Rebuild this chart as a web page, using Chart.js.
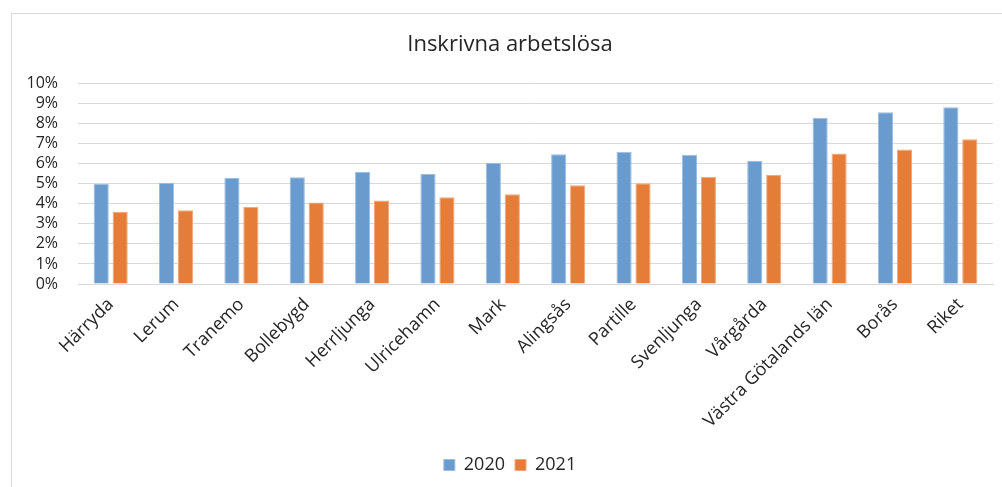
<!DOCTYPE html>
<html>
<head>
<meta charset="utf-8">
<script src="https://cdn.jsdelivr.net/npm/chart.js@4"></script>
<style>
  html, body { margin: 0; padding: 0; background: #fff; }
  #wrap { position: relative; width: 1002px; height: 487px; overflow: hidden; }
  #frame { position: absolute; left: 11px; top: 13px; width: 1100px; height: 600px;
           border-left: 1px solid #d9d9d9; border-top: 1px solid #d9d9d9; }
  canvas { position: absolute; left: 0; top: 0; }
</style>
</head>
<body>
<div id="wrap">
  <div id="frame"></div>
  <canvas id="chart" width="1002" height="487"></canvas>
</div>
<script>
// Data
const kommuner = ['Härryda', 'Lerum', 'Tranemo', 'Bollebygd', 'Herrljunga', 'Ulricehamn', 'Mark',
  'Alingsås', 'Partille', 'Svenljunga', 'Vårgårda', 'Västra Götalands län', 'Borås', 'Riket'];
const ar2020 = [5.0, 5.05, 5.28, 5.32, 5.59, 5.48, 6.04, 6.47, 6.59, 6.44, 6.14, 8.29, 8.56, 8.81];
const ar2021 = [3.6, 3.68, 3.85, 4.06, 4.16, 4.33, 4.48, 4.92, 5.02, 5.35, 5.43, 6.5, 6.71, 7.21];
const yTicks = [0, 1, 2, 3, 4, 5, 6, 7, 8, 9, 10];

const textColor = '#262626';
const gridColor = '#d9d9d9';
const fontFam = '"Open Sans", sans-serif';

const ctx = document.getElementById('chart').getContext('2d');
new Chart(ctx, {
    type: 'bar',
    data: {
        labels: kommuner,
        datasets: [
            { label: '2020', data: ar2020, backgroundColor: '#6a9bcf', borderColor: '#9dbde0', borderWidth: 1 },
            { label: '2021', data: ar2021, backgroundColor: '#e57c38', borderColor: '#f0a878', borderWidth: 1 }
        ]
    },
    options: {
        responsive: false,
        animation: false,
        layout: { padding: { left: 27, right: 9, top: 32, bottom: 3 } },
        datasets: { bar: { categoryPercentage: 0.58, barPercentage: 0.8 } },
        scales: {
            x: {
                grid: { display: false },
                border: { display: true, color: gridColor },
                ticks: {
                    color: textColor,
                    font: { family: fontFam, size: 18 },
                    minRotation: 45, maxRotation: 45,
                    autoSkip: false,
                    padding: 2
                },
                afterFit: (scale) => {
                    scale.height = 162;
                    scale.paddingLeft = 0;
                    scale.paddingRight = 0;
                }
            },
            y: {
                min: 0, max: 10,
                afterBuildTicks: (scale) => { scale.ticks = yTicks.map(v => ({ value: v })); },
                grid: { color: gridColor, drawTicks: false },
                border: { display: false },
                ticks: {
                    color: textColor,
                    font: { family: fontFam, size: 16 },
                    autoSkip: false,
                    padding: 20,
                    callback: (v) => v + '%'
                },
                afterFit: (scale) => { scale.width = 51; }
            }
        },
        plugins: {
            title: {
                display: true,
                text: 'Inskrivna arbetslösa',
                color: textColor,
                font: { family: fontFam, size: 22, weight: 'normal' },
                padding: { top: 0, bottom: 25 }
            },
            legend: {
                position: 'bottom',
                labels: {
                    color: textColor,
                    font: { family: fontFam, size: 18 },
                    boxWidth: 11, boxHeight: 11,
                    padding: 10
                }
            },
            tooltip: { enabled: false }
        }
    }
});
</script>
</body>
</html>
